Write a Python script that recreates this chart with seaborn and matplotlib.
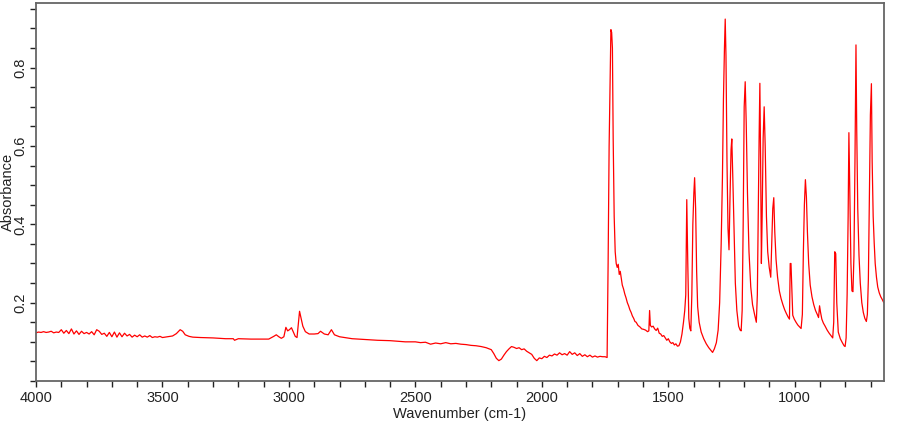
import pandas as pd
import seaborn as sns
import matplotlib
matplotlib.use("Agg")
import matplotlib.pyplot as plt
from matplotlib.ticker import MultipleLocator

# Spectrum, split in regions (wavenumber cm-1, absorbance)
# 4000-3600: noisy high-wavenumber baseline
wn_a = [4000, 3990, 3980, 3970, 3960, 3950, 3940, 3930, 3920, 3910,
        3900, 3890, 3880, 3870, 3860, 3850, 3840, 3830, 3820, 3810,
        3800, 3790, 3780, 3770, 3760, 3750, 3740, 3730, 3720, 3710,
        3700, 3690, 3680, 3670, 3660, 3650, 3640, 3630, 3620, 3610, 3600]
ab_a = [0.123, 0.125, 0.124, 0.126, 0.124, 0.125, 0.127, 0.123, 0.125, 0.124,
        0.131, 0.122, 0.129, 0.121, 0.133, 0.120, 0.128, 0.119, 0.127, 0.121,
        0.124, 0.120, 0.126, 0.118, 0.131, 0.127, 0.119, 0.122, 0.114, 0.124,
        0.113, 0.125, 0.112, 0.123, 0.113, 0.122, 0.115, 0.119, 0.112, 0.117, 0.113]

# 3590-3300: O-H overtone bump
wn_b = [3590, 3580, 3570, 3560, 3550, 3540, 3530, 3520, 3510, 3500,
        3480, 3460, 3445, 3430, 3420, 3410, 3395, 3380, 3350, 3300]
ab_b = [0.118, 0.112, 0.115, 0.112, 0.116, 0.111, 0.113, 0.112, 0.114, 0.111,
        0.113, 0.115, 0.121, 0.131, 0.127, 0.118, 0.114, 0.112, 0.111, 0.110]

# 3250-2540: C-H stretch
wn_c = [3250, 3220, 3215, 3200, 3150, 3100, 3080, 3060, 3050, 3040,
        3030, 3020, 3012, 3005, 2998, 2990, 2982, 2975, 2968, 2962]
ab_c = [0.108, 0.108, 0.104, 0.108, 0.107, 0.107, 0.107, 0.114, 0.118, 0.113,
        0.109, 0.113, 0.137, 0.128, 0.131, 0.136, 0.124, 0.114, 0.111, 0.150]

wn_d = [2958, 2952, 2945, 2935, 2920, 2900, 2885, 2875, 2860, 2845,
        2832, 2820, 2800, 2780, 2750, 2700, 2650, 2600, 2560, 2540]
ab_d = [0.178, 0.160, 0.140, 0.126, 0.120, 0.120, 0.121, 0.127, 0.120, 0.118,
        0.131, 0.118, 0.113, 0.111, 0.108, 0.106, 0.104, 0.103, 0.101, 0.100]

# 2500-1742: low baseline with CO2 dip
wn_e = [2500, 2480, 2460, 2440, 2420, 2400, 2380, 2360, 2340, 2320,
        2300, 2280, 2260, 2240, 2220, 2200, 2190, 2180, 2170, 2160]
ab_e = [0.100, 0.098, 0.099, 0.094, 0.097, 0.095, 0.098, 0.095, 0.096, 0.094,
        0.093, 0.091, 0.090, 0.088, 0.085, 0.080, 0.070, 0.058, 0.052, 0.056]

wn_f = [2150, 2140, 2130, 2120, 2110, 2100, 2090, 2080, 2070, 2060,
        2050, 2040, 2030, 2020, 2010, 2000, 1990, 1980, 1970, 1960]
ab_f = [0.066, 0.075, 0.082, 0.088, 0.086, 0.083, 0.085, 0.080, 0.082, 0.076,
        0.072, 0.068, 0.058, 0.052, 0.059, 0.057, 0.063, 0.060, 0.066, 0.064]

wn_g = [1950, 1940, 1930, 1920, 1910, 1900, 1890, 1880, 1870, 1860, 1850,
        1840, 1830, 1820, 1810, 1800, 1790, 1780, 1770, 1760, 1750, 1742]
ab_g = [0.069, 0.066, 0.072, 0.067, 0.070, 0.066, 0.075, 0.068, 0.072, 0.065, 0.070,
        0.063, 0.067, 0.062, 0.066, 0.061, 0.064, 0.061, 0.063, 0.062, 0.062, 0.060]

# 1738-1431: carbonyl band and its tail
wn_h = [1738, 1734, 1730, 1727, 1724, 1721, 1718, 1714, 1710, 1706,
        1702, 1698, 1694, 1690, 1686, 1682, 1677, 1672, 1667, 1662]
ab_h = [0.300, 0.600, 0.780, 0.897, 0.890, 0.850, 0.620, 0.420, 0.330, 0.300,
        0.290, 0.298, 0.272, 0.280, 0.262, 0.245, 0.235, 0.222, 0.212, 0.200]

wn_i = [1657, 1652, 1647, 1642, 1637, 1632, 1627, 1620, 1612, 1605,
        1598, 1590, 1582, 1577, 1574, 1571, 1566, 1560, 1554, 1548]
ab_i = [0.192, 0.182, 0.175, 0.166, 0.160, 0.152, 0.150, 0.142, 0.138, 0.133,
        0.132, 0.130, 0.126, 0.128, 0.180, 0.142, 0.138, 0.140, 0.133, 0.129]

wn_j = [1542, 1536, 1530, 1524, 1518, 1512, 1506, 1500, 1494, 1488,
        1482, 1476, 1470, 1464, 1458, 1452, 1446, 1440, 1435, 1431]
ab_j = [0.135, 0.122, 0.120, 0.114, 0.116, 0.110, 0.104, 0.108, 0.100, 0.096,
        0.098, 0.092, 0.095, 0.089, 0.090, 0.100, 0.120, 0.150, 0.180, 0.220]

# 1427-648: fingerprint region
wn_k = [1427, 1423, 1419, 1415, 1411, 1407, 1403, 1399, 1396, 1392,
        1388, 1384, 1378, 1370, 1360, 1350, 1340, 1330, 1325, 1318]
ab_k = [0.463, 0.300, 0.160, 0.135, 0.128, 0.220, 0.400, 0.480, 0.519, 0.440,
        0.280, 0.190, 0.150, 0.125, 0.108, 0.095, 0.085, 0.077, 0.073, 0.082]

wn_l = [1310, 1303, 1297, 1291, 1286, 1282, 1278, 1275, 1272, 1268,
        1264, 1260, 1256, 1252, 1249, 1245, 1240, 1235, 1229, 1222]
ab_l = [0.098, 0.130, 0.200, 0.350, 0.520, 0.720, 0.850, 0.924, 0.830, 0.560,
        0.390, 0.335, 0.470, 0.590, 0.618, 0.520, 0.380, 0.250, 0.180, 0.140]

wn_m = [1216, 1212, 1208, 1204, 1200, 1196, 1192, 1187, 1181, 1174,
        1167, 1159, 1152, 1148, 1144, 1141, 1138, 1135, 1132, 1129]
ab_m = [0.130, 0.128, 0.180, 0.400, 0.700, 0.764, 0.660, 0.480, 0.330, 0.240,
        0.195, 0.170, 0.150, 0.220, 0.450, 0.620, 0.760, 0.560, 0.300, 0.420]

wn_n = [1125, 1121, 1117, 1112, 1107, 1101, 1095, 1091, 1087, 1083,
        1079, 1074, 1068, 1061, 1054, 1047, 1040, 1033, 1026, 1021]
ab_n = [0.620, 0.700, 0.600, 0.420, 0.330, 0.290, 0.265, 0.350, 0.440, 0.468,
        0.380, 0.310, 0.265, 0.230, 0.210, 0.195, 0.182, 0.172, 0.163, 0.158]

wn_o = [1018, 1015, 1012, 1008, 1002, 995, 988, 981, 975, 970,
        966, 962, 958, 954, 950, 945, 939, 932, 925, 918]
ab_o = [0.300, 0.300, 0.240, 0.168, 0.158, 0.150, 0.143, 0.138, 0.134, 0.170,
        0.330, 0.450, 0.514, 0.470, 0.380, 0.300, 0.245, 0.215, 0.195, 0.180]

wn_p = [911, 906, 902, 898, 893, 887, 880, 872, 864, 856,
        850, 846, 842, 838, 834, 828, 820, 812, 805, 801]
ab_p = [0.170, 0.162, 0.192, 0.175, 0.158, 0.148, 0.140, 0.130, 0.122, 0.115,
        0.110, 0.150, 0.330, 0.325, 0.200, 0.125, 0.108, 0.098, 0.090, 0.088]

wn_q = [797, 793, 789, 786, 782, 778, 774, 770, 766, 762,
        758, 755, 751, 746, 741, 735, 729, 723, 717, 713]
ab_q = [0.110, 0.220, 0.420, 0.634, 0.460, 0.300, 0.230, 0.228, 0.320, 0.560,
        0.858, 0.640, 0.440, 0.320, 0.250, 0.200, 0.175, 0.160, 0.152, 0.170]

wn_r = [709, 705, 701, 697, 694, 690, 686, 682, 677, 672, 666, 660, 654, 648]
ab_r = [0.260, 0.480, 0.680, 0.759, 0.560, 0.420, 0.353, 0.300, 0.265, 0.240,
        0.225, 0.215, 0.208, 0.200]

wn_parts = [wn_a, wn_b, wn_c, wn_d, wn_e, wn_f, wn_g, wn_h, wn_i, wn_j,
            wn_k, wn_l, wn_m, wn_n, wn_o, wn_p, wn_q, wn_r]
ab_parts = [ab_a, ab_b, ab_c, ab_d, ab_e, ab_f, ab_g, ab_h, ab_i, ab_j,
            ab_k, ab_l, ab_m, ab_n, ab_o, ab_p, ab_q, ab_r]
wavenumber, absorbance = [], []
for w, a in zip(wn_parts, ab_parts):
    n = min(len(w), len(a))
    wavenumber += w[:n]
    absorbance += a[:n]

spec = pd.DataFrame({"Wavenumber": wavenumber, "Absorbance": absorbance})

sns.set_style("ticks")
plt.rcParams["font.family"] = ["Liberation Sans", "DejaVu Sans"]

fig = plt.figure(figsize=(9, 4.25), dpi=100)
ax = fig.add_axes([0.04, 0.1035, 0.942, 0.8885])

sns.lineplot(data=spec, x="Wavenumber", y="Absorbance", color="#ff0000",
             lw=0.9, estimator=None, sort=False, ax=ax)

ax.set_xlim(4000, 648)
ax.set_ylim(0.0, 0.964)
ax.xaxis.set_minor_locator(MultipleLocator(100))
ax.yaxis.set_minor_locator(MultipleLocator(0.05))
ax.set_yticks([0.2, 0.4, 0.6, 0.8])
ax.set_xticks([4000, 3500, 3000, 2500, 2000, 1500, 1000])

ax.tick_params(axis="both", which="both", direction="out", length=4.5,
               width=1.0, color="#222222", labelsize=10.5, labelcolor="#222222")
for lbl in ax.get_yticklabels():
    lbl.set_rotation(90)
    lbl.set_va("center")
ax.tick_params(axis="y", pad=1.5)
ax.tick_params(axis="x", pad=3)

for s in ax.spines.values():
    s.set_visible(True)
    s.set_color("#666666")
    s.set_linewidth(1.3)

ax.set_xlabel("Wavenumber (cm-1)", fontsize=10.5, color="#222222", labelpad=1)
ax.set_ylabel("Absorbance", fontsize=10.5, color="#222222")
ax.yaxis.set_label_coords(-0.0245, 0.5)

fig.savefig("out.png", dpi=100)
